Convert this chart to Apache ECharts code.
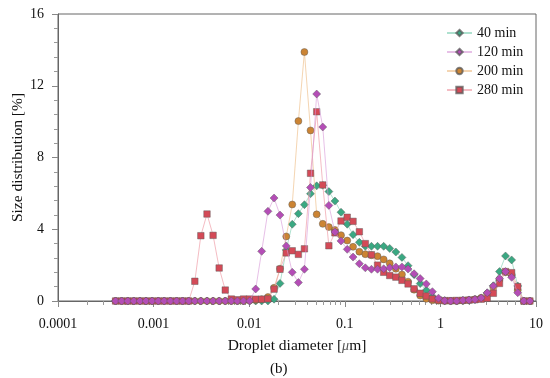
<!DOCTYPE html>
<html>
<head>
<meta charset="utf-8">
<script src="https://cdn.jsdelivr.net/npm/echarts@6/dist/echarts.min.js"></script>
<style>html,body{margin:0;padding:0;background:#fff}#c{width:550px;height:378px}</style>
</head>
<body>
<div id="c"></div>
<script>
// Droplet diameter bins [µm]
const sizes = [0.0004, 0.000463, 0.000537, 0.000621, 0.00072, 0.000833, 0.000965, 0.00112, 0.00129, 0.0015,
  0.00174, 0.00201, 0.00233, 0.0027, 0.00312, 0.00362, 0.00419, 0.00485, 0.00562, 0.0065,
  0.00753, 0.00872, 0.0101, 0.0117, 0.0135, 0.0157, 0.0182, 0.021, 0.0244, 0.0282,
  0.0327, 0.0378, 0.0438, 0.0508, 0.0588, 0.0681, 0.0788, 0.0913, 0.106, 0.122,
  0.142, 0.164, 0.19, 0.22, 0.255, 0.295, 0.342, 0.396, 0.459, 0.531,
  0.615, 0.712, 0.825, 0.955, 1.11, 1.28, 1.48, 1.72, 1.99, 2.3,
  2.67, 3.09, 3.58, 4.15, 4.8, 5.56, 6.44, 7.46, 8.63];

const min40 = [0,0,0,0,0,0,0,0,0,0, 0,0,0,0,0,0,0,0,0,0, 0,0,0,0,0,0,
  0.1, 0.98, 2.85, 4.28, 4.87, 5.37, 5.98, 6.42, 6.45, 6.1, 5.57, 4.95, 4.28, 3.7, 3.27, 3.05, 3.05, 3.05, 3.05,
  2.93, 2.73, 2.43, 1.97, 1.47, 0.97, 0.6, 0.25, 0.08, 0.02, 0, 0, 0.02, 0.04, 0.08, 0.15, 0.45, 0.85, 1.64,
  2.51, 2.29, 0.84, 0, 0];

const min120 = [0,0,0,0,0,0,0,0,0,0, 0,0,0,0,0,0,0,0,0,0, 0,0,0,
  0.67, 2.77, 5.0, 5.74, 4.79, 3.07, 1.6, 1.03, 1.77, 6.33, 11.54, 9.7, 5.33, 3.85, 3.35, 2.88, 2.45, 2.08,
  1.85, 1.77, 1.77, 1.8, 1.86, 1.9, 1.9, 1.78, 1.52, 1.25, 0.95, 0.52, 0.16, 0.02, 0, 0, 0.04, 0.06, 0.09,
  0.17, 0.46, 0.84, 1.26, 1.64, 1.32, 0.46, 0, 0];

const min200 = [0,0,0,0,0,0,0,0,0,0, 0,0,0,0,0,0,0,0,0,0, 0,0,
  0.03, 0.05, 0.1, 0.22, 0.74, 1.8, 3.6, 5.38, 10.03, 13.88, 9.51, 4.83, 4.3, 4.12, 3.96, 3.67, 3.37, 3.02,
  2.75, 2.61, 2.55, 2.5, 2.32, 2.1, 1.8, 1.48, 1.08, 0.63, 0.3, 0.12, 0.04, 0.02, 0, 0, 0, 0.02, 0.05, 0.1,
  0.18, 0.4, 0.75, 1.2, 1.6, 1.45, 0.6, 0, 0];

const min280 = [0,0,0,0,0,0,0,0,0,0, 0,0,0,
  1.1, 3.64, 4.85, 3.66, 1.84, 0.61, 0.11, 0.07, 0.11, 0.11, 0.1, 0.1, 0.12, 0.66, 1.77, 2.68, 2.8, 2.6, 2.91,
  7.12, 10.55, 6.47, 3.08, 3.8, 4.46, 4.67, 4.44, 3.86, 3.2, 2.58, 2.0, 1.6, 1.42, 1.33, 1.15, 0.95, 0.68,
  0.43, 0.28, 0.12, 0.05, 0.02, 0.02, 0.03, 0.04, 0.05, 0.07, 0.1, 0.15, 0.43, 0.98, 1.64, 1.58, 0.8, 0, 0];

const seriesNames = ['40 min', '120 min', '200 min', '280 min'];
const xTickLabels = {'0.0001': '0.0001', '0.001': '0.001', '0.01': '0.01', '0.1': '0.1', '1': '1', '10': '10'};
const xMinorTicks = [0.0002, 0.0003, 0.0004, 0.0005, 0.0006, 0.0007, 0.0008, 0.0009,
  0.002, 0.003, 0.004, 0.005, 0.006, 0.007, 0.008, 0.009,
  0.02, 0.03, 0.04, 0.05, 0.06, 0.07, 0.08, 0.09,
  0.2, 0.3, 0.4, 0.5, 0.6, 0.7, 0.8, 0.9,
  2, 3, 4, 5, 6, 7, 8, 9];

const FONT = "'Liberation Serif', 'DejaVu Serif', serif";
const pair = arr => sizes.map((s, i) => [s, arr[i]]);

function mk(name, data, symbol, size, fill, line, z) {
  return {
    name: name, type: 'line', data: pair(data), symbol: symbol, symbolSize: size,
    z: z, showSymbol: true, animation: false,
    lineStyle: {color: line, width: 1},
    itemStyle: {color: fill, borderColor: 'rgba(90,90,90,0.75)', borderWidth: 0.6}
  };
}

const chart = echarts.init(document.getElementById('c'), null, {renderer: 'canvas'});
chart.setOption({
  animation: false,
  backgroundColor: '#fff',
  textStyle: {fontFamily: FONT},
  title: {
    text: '(b)', left: 265, top: 357,
    textStyle: {fontFamily: FONT, fontSize: 15, fontWeight: 'normal', color: '#111'}
  },
  grid: {left: 58, right: 14, top: 14, bottom: 77, outerBoundsMode: 'none', containLabel: false,
    show: true, borderColor: '#666', borderWidth: 1, backgroundColor: 'transparent'},
  legend: {
    data: seriesNames, orient: 'vertical', left: 441, top: 21,
    itemWidth: 25, itemHeight: 8, itemGap: 5,
    textStyle: {fontFamily: FONT, fontSize: 14, color: '#111'}
  },
  xAxis: [{
    type: 'log', logBase: 10, min: 0.0001, max: 10,
    name: 'Droplet diameter [{it|μ}m]', nameLocation: 'middle', nameGap: 37, nameMoveOverlap: false,
    nameTextStyle: {fontFamily: FONT, fontSize: 15.5, color: '#111',
      rich: {it: {fontFamily: FONT, fontStyle: 'italic', fontSize: 14, color: '#555'}}},
    axisLine: {lineStyle: {color: '#666', width: 1}},
    axisTick: {show: true, length: 6, inside: false, lineStyle: {color: '#888'}},
    axisLabel: {fontFamily: FONT, fontSize: 14, color: '#111', margin: 16,
      formatter: v => xTickLabels[String(+v.toPrecision(3))] || ''},
    splitLine: {show: false}
  }, {
    type: 'log', logBase: 10, min: 0.0001, max: 10, position: 'bottom', gridIndex: 0,
    axisLine: {show: false},
    axisTick: {show: true, length: 4, inside: false, customValues: xMinorTicks, lineStyle: {color: '#999'}},
    axisLabel: {show: false},
    splitLine: {show: false}
  }],
  yAxis: {
    type: 'value', min: 0, max: 16, interval: 4,
    name: 'Size distribution [%]', nameLocation: 'middle', nameGap: 32, nameMoveOverlap: false,
    nameTextStyle: {fontFamily: FONT, fontSize: 15.5, color: '#111'},
    axisLine: {show: true, lineStyle: {color: '#666', width: 1}},
    axisTick: {show: true, length: 6, inside: false, lineStyle: {color: '#888'}},
    minorTick: {show: true, splitNumber: 5, length: 4, lineStyle: {color: '#999'}},
    axisLabel: {fontFamily: FONT, fontSize: 14, color: '#111', margin: 14},
    splitLine: {show: false}
  },
  series: [
    mk(seriesNames[0], min40, 'diamond', 8, '#3aa882', 'rgba(120,205,175,0.6)', 2),
    mk(seriesNames[2], min200, 'circle', 7, '#cc8433', 'rgba(240,195,145,0.7)', 3),
    mk(seriesNames[3], min280, 'rect', 6.5, '#d44a57', 'rgba(240,160,170,0.7)', 4),
    mk(seriesNames[1], min120, 'diamond', 8, '#b44db6', 'rgba(215,150,215,0.6)', 5)
  ]
});
</script>
</body>
</html>
